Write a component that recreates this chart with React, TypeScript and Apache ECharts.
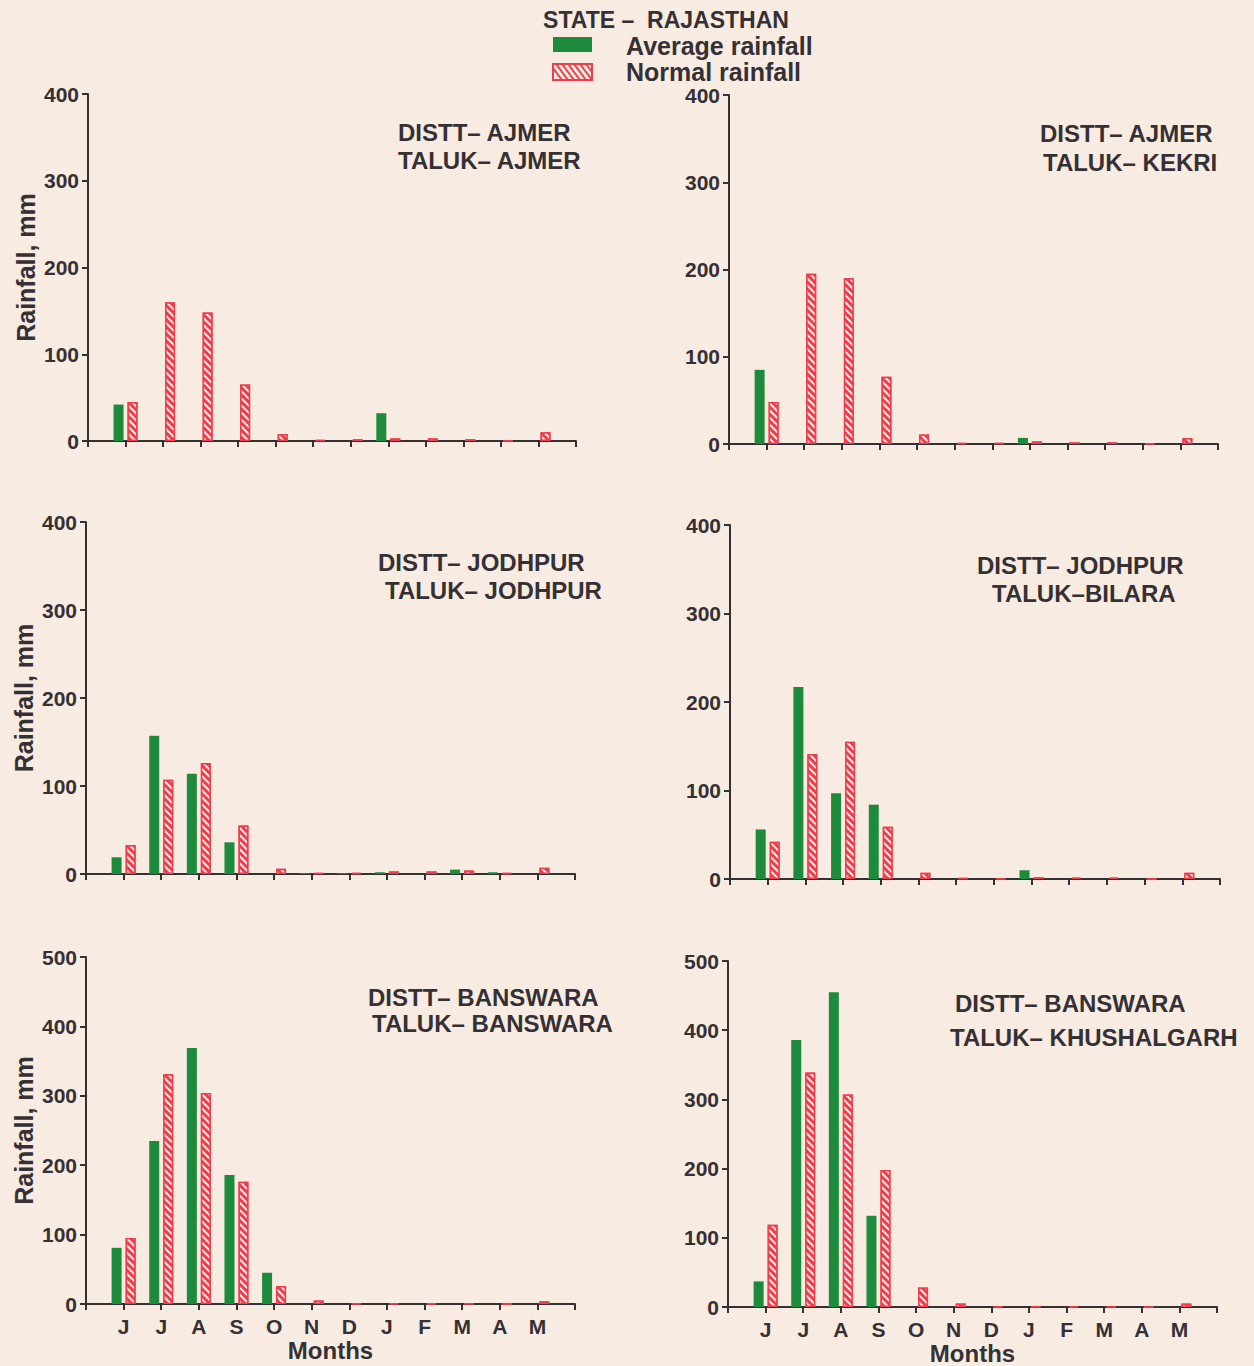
import React, { useEffect, useRef } from "react";
import * as echarts from "echarts";

const months = ["J", "J", "A", "S", "O", "N", "D", "J", "F", "M", "A", "M"];
const yTicks400 = [0, 100, 200, 300, 400];
const yTicks500 = [0, 100, 200, 300, 400, 500];

// Ajmer / Ajmer
const ajmerAvg = [42, 0, 0, 0, 0, 0, 0, 32, 0, 0, 0, 0];
const ajmerNorm = [45, 160, 148, 65, 8, 1, 2, 3, 3, 2, 0.5, 10];
// Ajmer / Kekri
const kekriAvg = [85, 0, 0, 0, 0, 0, 0, 7, 0, 0, 0, 0];
const kekriNorm = [48, 195, 190, 77, 11, 1, 1, 3, 2, 2, 0.5, 7];
// Jodhpur / Jodhpur
const jodhpurAvg = [19, 157, 114, 36, 0, 1, 1, 2, 0, 5, 2, 0];
const jodhpurNorm = [33, 107, 126, 55, 6, 1, 1, 3, 3, 4, 1, 7];
// Jodhpur / Bilara
const bilaraAvg = [56, 217, 97, 84, 0, 0, 0, 10, 0, 0, 0, 0];
const bilaraNorm = [42, 141, 155, 59, 7, 1, 0.5, 2, 1.5, 1.5, 0, 7];
// Banswara / Banswara
const banswaraAvg = [81, 235, 369, 186, 45, 0, 0, 0, 0, 0, 0, 0];
const banswaraNorm = [95, 331, 304, 176, 26, 5, 1, 1, 1, 1, 0, 4];
// Banswara / Khushalgarh
const khushAvg = [37, 386, 455, 132, 0, 0, 0, 0, 0, 0, 0, 0];
const khushNorm = [119, 339, 307, 198, 28, 5, 1, 1, 1, 1, 0, 5];

const panels = [
  { distt: "DISTT– AJMER", taluk: "TALUK– AJMER", avg: ajmerAvg, norm: ajmerNorm, ticks: yTicks400 },
  { distt: "DISTT– AJMER", taluk: "TALUK– KEKRI", avg: kekriAvg, norm: kekriNorm, ticks: yTicks400 },
  { distt: "DISTT– JODHPUR", taluk: "TALUK– JODHPUR", avg: jodhpurAvg, norm: jodhpurNorm, ticks: yTicks400 },
  { distt: "DISTT– JODHPUR", taluk: "TALUK–BILARA", avg: bilaraAvg, norm: bilaraNorm, ticks: yTicks400 },
  { distt: "DISTT– BANSWARA", taluk: "TALUK– BANSWARA", avg: banswaraAvg, norm: banswaraNorm, ticks: yTicks500 },
  { distt: "DISTT– BANSWARA", taluk: "TALUK– KHUSHALGARH", avg: khushAvg, norm: khushNorm, ticks: yTicks500 },
];

// layout (pixels)
const grids = [
  { left: 88, top: 94, width: 488, height: 347 },
  { left: 729, top: 95, width: 489, height: 349 },
  { left: 86, top: 522, width: 489, height: 352 },
  { left: 730, top: 525, width: 490, height: 354 },
  { left: 86, top: 957, width: 489, height: 347 },
  { left: 728, top: 961, width: 489, height: 348 },
];
const titlePos = [
  { x1: 398, x2: 398, y1: 132, y2: 160 },
  { x1: 1040, x2: 1043, y1: 133, y2: 162 },
  { x1: 378, x2: 385, y1: 562, y2: 590 },
  { x1: 977, x2: 992, y1: 565, y2: 593 },
  { x1: 368, x2: 372, y1: 997, y2: 1023 },
  { x1: 955, x2: 950, y1: 1003, y2: 1037 },
];

const GREEN = "#1d8a3c";
const RED = "#ef3d4c";
const INK = "#353034";
const BG = "#f8ebe2";
const FONT = "'Liberation Sans', Arial, sans-serif";

export default function App() {
  const ref = useRef<HTMLDivElement>(null);
  useEffect(() => {
    if (!ref.current) return;
    const chart = echarts.init(ref.current, undefined, { renderer: "svg" });
    const xCats = ["", ...months, ""];
    const xAxis: any[] = [];
    const yAxis: any[] = [];
    const series: any[] = [];
    const graphic: any[] = [];
    const txt = (text: string, x: number, y: number, size: number, align = "left") => ({
      type: "text",
      x,
      y,
      style: {
        text,
        fontSize: size,
        fontWeight: "bold",
        fontFamily: FONT,
        fill: INK,
        align,
        verticalAlign: "middle",
      },
    });
    panels.forEach((p, i) => {
      const isBottom = i >= 4;
      const isLeft = i % 2 === 0;
      const maxV = p.ticks[p.ticks.length - 1];
      xAxis.push({
        type: "category",
        gridIndex: i,
        data: xCats,
        boundaryGap: false,
        axisLine: { lineStyle: { color: INK, width: 2 } },
        axisTick: { show: true, interval: 0, length: 6, lineStyle: { color: INK, width: 2 } },
        axisLabel: {
          show: isBottom,
          interval: 0,
          margin: 12,
          fontSize: 21,
          fontWeight: "bold",
          color: INK,
          fontFamily: FONT,
        },
        name: isBottom ? "Months" : "",
        nameLocation: "middle",
        nameGap: 34,
        nameTextStyle: { fontSize: 24, fontWeight: "bold", color: INK, fontFamily: FONT },
        splitLine: { show: false },
      });
      yAxis.push({
        type: "value",
        gridIndex: i,
        min: 0,
        max: maxV,
        interval: 100,
        axisLine: { show: true, lineStyle: { color: INK, width: 2 } },
        axisTick: { show: true, length: 6, lineStyle: { color: INK, width: 2 } },
        axisLabel: { margin: 9, fontSize: 21, fontWeight: "bold", color: INK, fontFamily: FONT },
        splitLine: { show: false },
        name: isLeft ? "Rainfall, mm" : "",
        nameLocation: "middle",
        nameGap: 50,
        nameTextStyle: { fontSize: 25, fontWeight: "bold", color: INK, fontFamily: FONT },
      });
      series.push({
        type: "bar",
        name: "Average rainfall",
        xAxisIndex: i,
        yAxisIndex: i,
        barWidth: 10,
        barGap: "40%",
        data: [null, ...p.avg, null],
        itemStyle: { color: GREEN },
      });
      series.push({
        type: "bar",
        name: "Normal rainfall",
        xAxisIndex: i,
        yAxisIndex: i,
        barWidth: 10,
        barGap: "40%",
        data: [null, ...p.norm, null],
        itemStyle: {
          color: RED,
          borderColor: RED,
          borderWidth: 1.5,
          decal: {
            symbol: "rect",
            symbolSize: 1,
            color: "rgba(255,246,240,0.95)",
            dashArrayX: [1, 0],
            dashArrayY: [2, 3],
            rotation: Math.PI / 4,
          },
        },
      });
      const t = titlePos[i];
      graphic.push(txt(p.distt, t.x1, t.y1, 24));
      graphic.push(txt(p.taluk, t.x2, t.y2, 24));
    });

    // header + legend
    graphic.push(txt("STATE –  RAJASTHAN", 666, 20, 23, "center"));
    graphic.push({ type: "rect", shape: { x: 553, y: 37, width: 39, height: 15 }, style: { fill: GREEN } });
    graphic.push(txt("Average rainfall", 626, 46, 25));
    const clip = (x: number) => Math.max(553, Math.min(592, x));
    const stripes: any[] = [];
    for (let k = 0; k < 8; k++) {
      const sx1 = 550 + k * 6;
      const sx2 = sx1 + 12;
      const x1 = clip(sx1), x2 = clip(sx2);
      const slope = 16 / 12;
      stripes.push({
        type: "line",
        shape: { x1, y1: 64 + (x1 - sx1) * slope, x2, y2: 64 + (x2 - sx1) * slope },
        style: { stroke: RED, lineWidth: 2 },
      });
    }
    graphic.push({
      type: "group",
      children: [
        { type: "rect", shape: { x: 553, y: 64, width: 39, height: 16 }, style: { fill: BG, stroke: RED, lineWidth: 2 } },
        ...stripes,
      ],
    });
    graphic.push(txt("Normal rainfall", 626, 72, 25));

    chart.setOption({
      animation: false,
      backgroundColor: BG,
      grid: grids.map((g) => ({ ...g, containLabel: false })),
      xAxis,
      yAxis,
      series,
      graphic,
    });
    return () => chart.dispose();
  }, []);
  return (
    <div
      ref={ref}
      style={{ position: "absolute", left: 0, top: 0, width: 1254, height: 1366 }}
    />
  );
}
